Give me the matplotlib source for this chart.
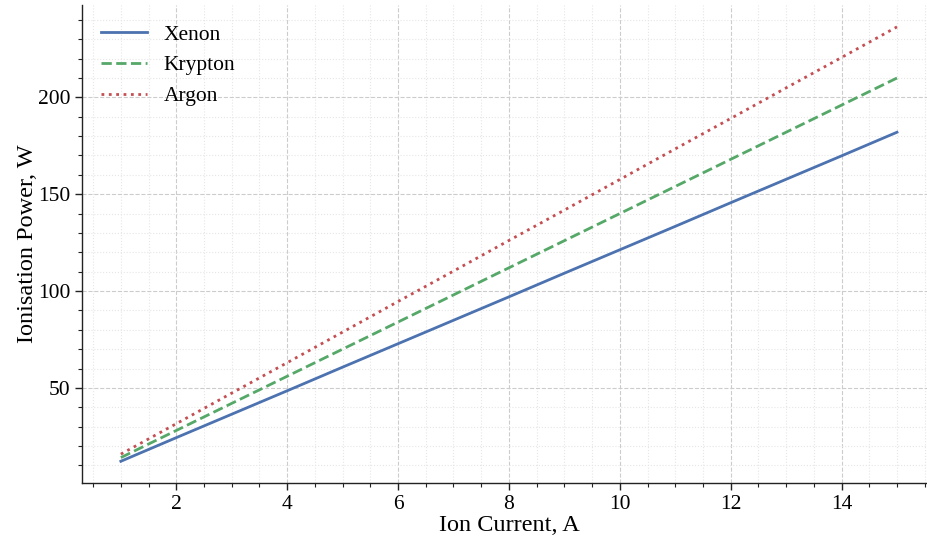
import numpy as np
import matplotlib.pyplot as plt
from matplotlib.ticker import MultipleLocator

# Ion current in amperes
current = [1, 2, 3, 4, 5, 6, 7, 8, 9, 10, 11, 12, 13, 14, 15]

# Ionisation power in watts for each propellant
xenon = [12.1, 24.3, 36.4, 48.5, 60.7, 72.8, 84.9, 97.0, 109.2, 121.3,
         133.4, 145.6, 157.7, 169.8, 182.0]
krypton = [14.0, 28.0, 42.0, 56.0, 70.0, 84.0, 98.0, 112.0, 126.0, 140.0,
           154.0, 168.0, 182.0, 196.0, 210.0]
argon = [15.8, 31.5, 47.3, 63.0, 78.8, 94.6, 110.3, 126.1, 141.8, 157.6,
         173.4, 189.1, 204.9, 220.6, 236.4]

plt.rcParams['font.family'] = ['Liberation Serif', 'DejaVu Serif']

fig = plt.figure(figsize=(9.28, 5.43), dpi=100)
ax = fig.add_axes([0.0884, 0.1105, 0.920, 0.880])

ax.plot(current, xenon, color='#4C72B0', lw=2, ls='-', label='Xenon')
ax.plot(current, krypton, color='#55A868', lw=2, ls='--', label='Krypton')
ax.plot(current, argon, color='#C44E52', lw=2, ls=':', label='Argon')

ax.set_xlim(0.3, 15.7)
ax.xaxis.set_major_locator(MultipleLocator(2))
ax.xaxis.set_minor_locator(MultipleLocator(0.5))
ax.yaxis.set_major_locator(MultipleLocator(50))
ax.yaxis.set_minor_locator(MultipleLocator(10))

ax.grid(which='major', color='#cccccc', ls='--', lw=0.8)
ax.grid(which='minor', color='#e6e6e6', ls=':', lw=0.8)
ax.set_axisbelow(True)

for s in ['top', 'right']:
    ax.spines[s].set_visible(False)
for s in ['left', 'bottom']:
    ax.spines[s].set_color('#222222')
    ax.spines[s].set_linewidth(1.0)

ax.tick_params(which='major', length=5, width=1, labelsize=15.5, colors='#222222')
ax.tick_params(which='minor', length=3, width=0.8, colors='#222222')
ax.tick_params(labelcolor='black')

ax.set_xlabel('Ion Current, A', fontsize=17.5, labelpad=1)
ax.set_ylabel('Ionisation Power, W', fontsize=17.5, labelpad=0)

ax.legend(loc='upper left', frameon=False, fontsize=15.5, handlelength=2.1,
          borderaxespad=0.5, labelspacing=0.5)

fig.savefig('out.png', dpi=100)
